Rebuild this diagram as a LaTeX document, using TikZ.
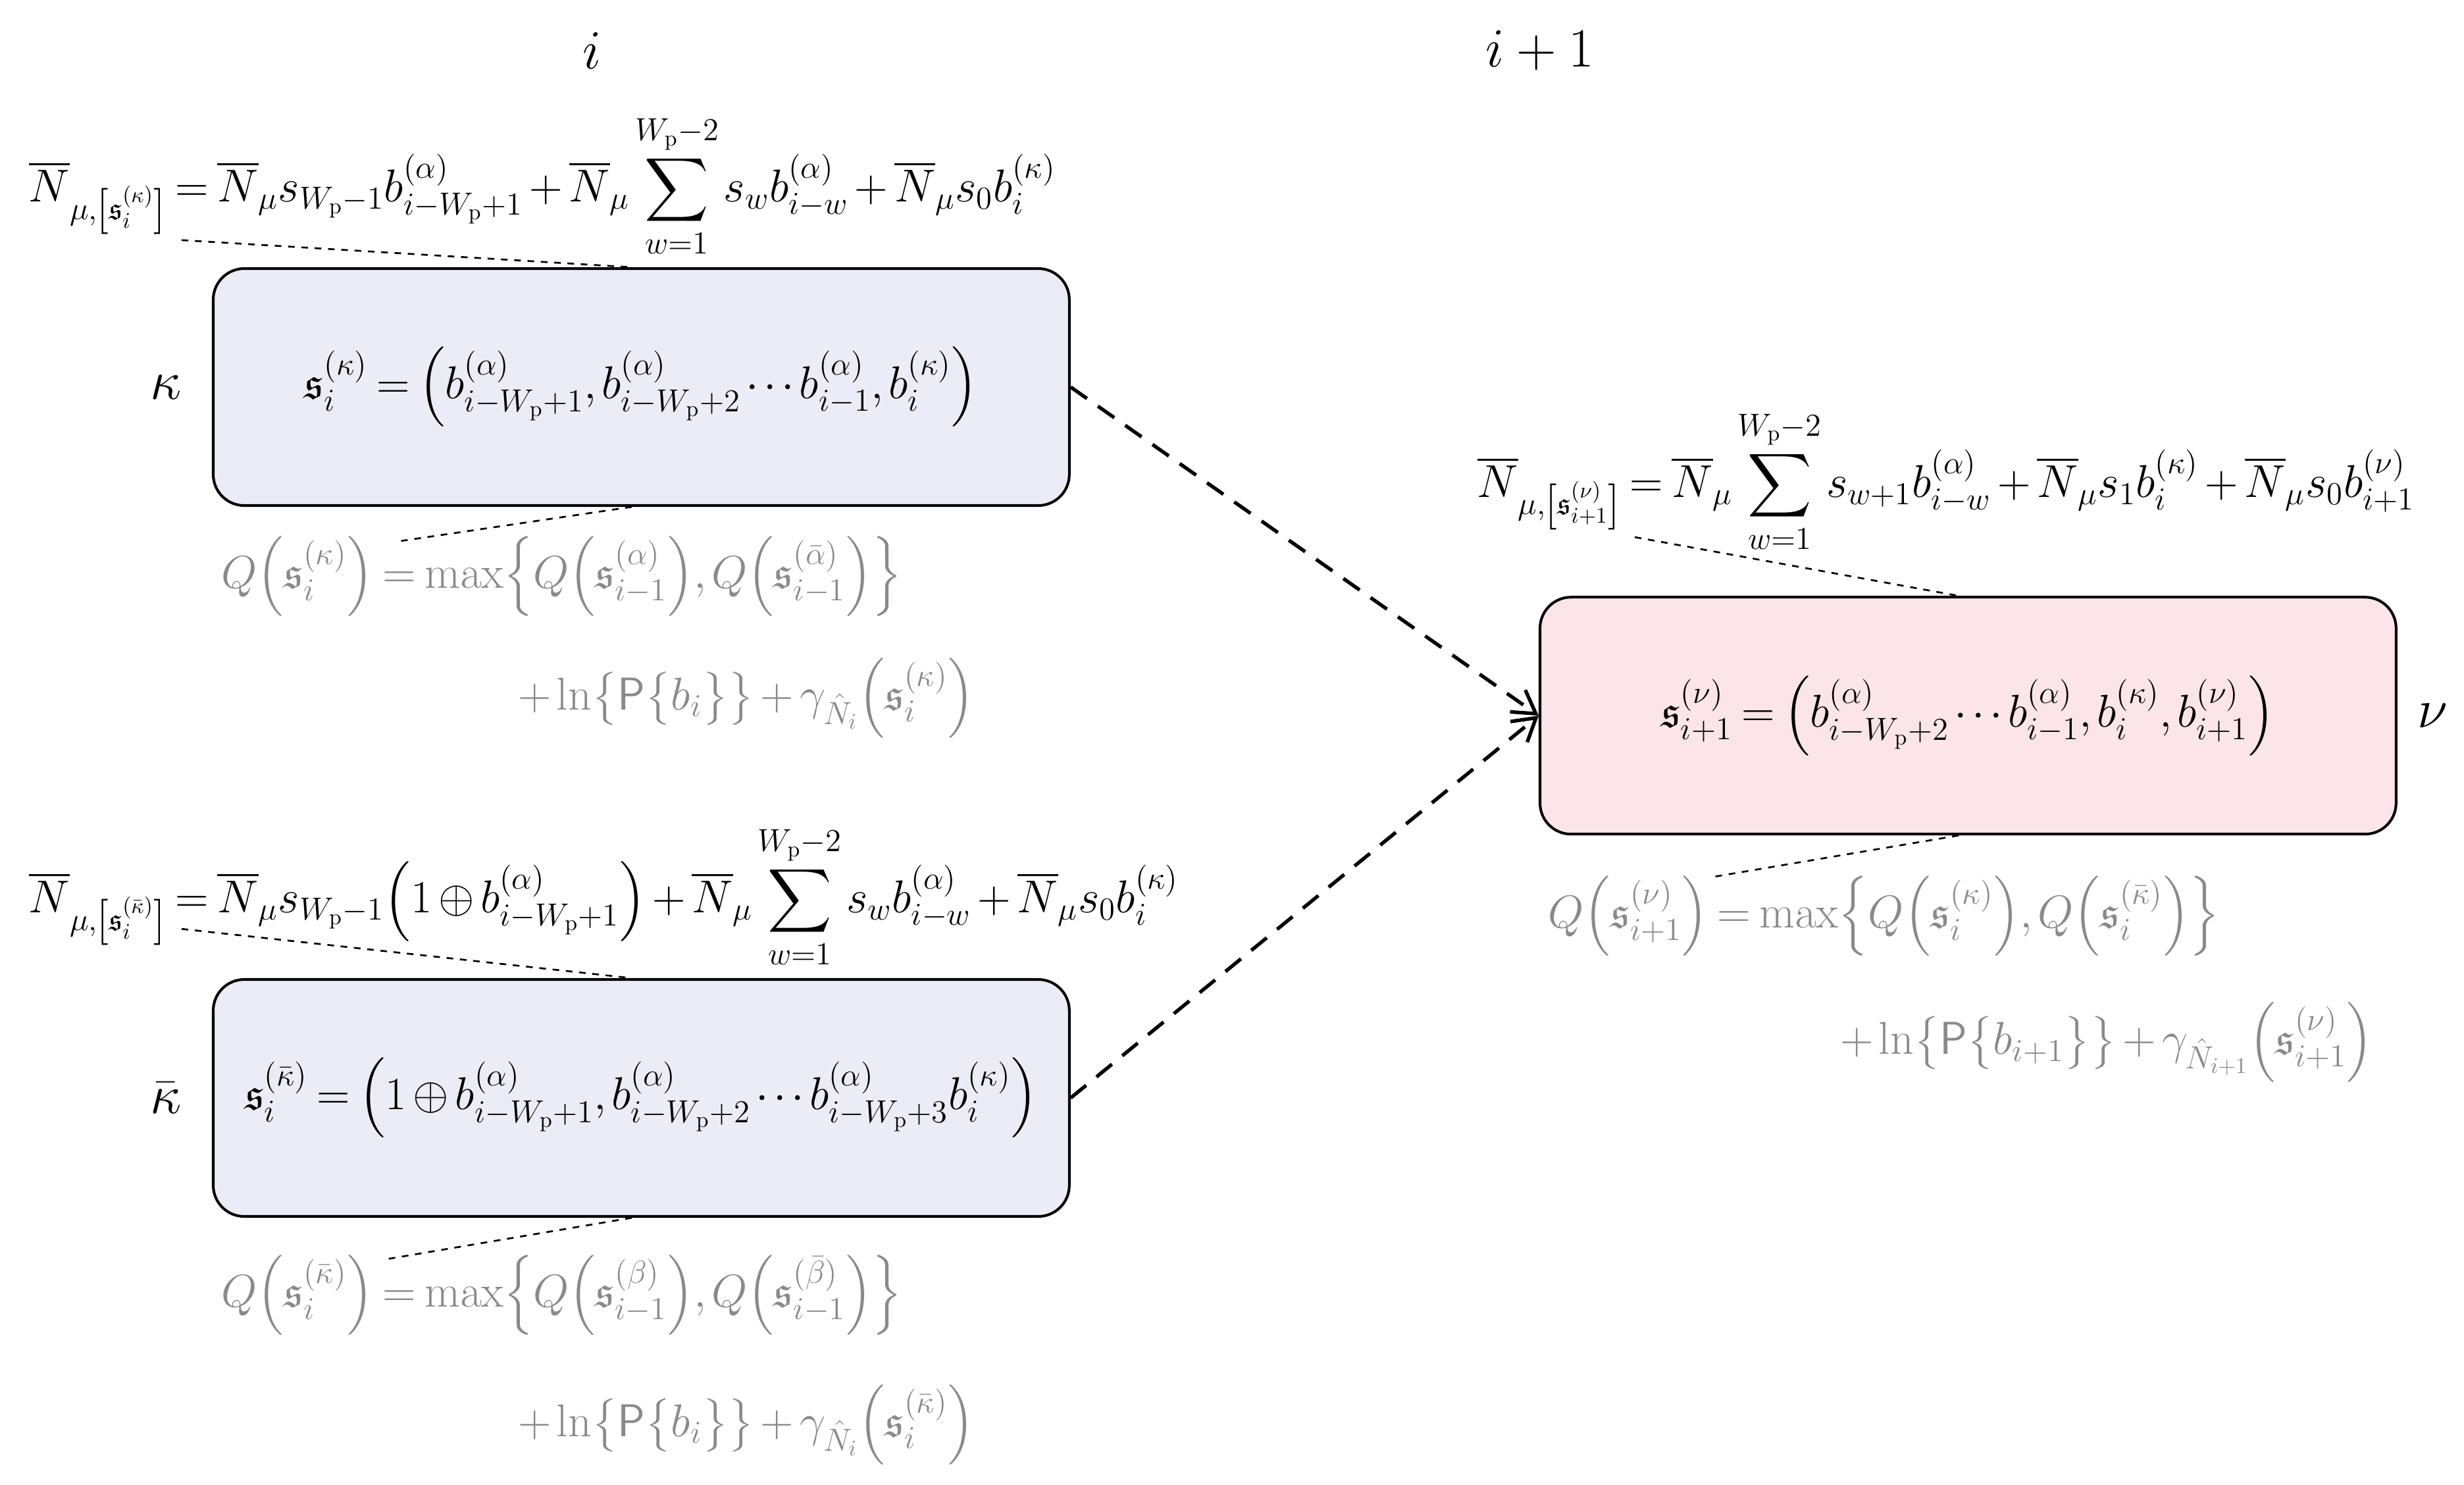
\documentclass[tikz,border=0pt]{standalone}
\usepackage{amsmath,amssymb}
\usetikzlibrary{arrows.meta}
\definecolor{boxblue}{HTML}{ECECF6}
\definecolor{boxpink}{HTML}{FBE5E8}
\definecolor{qgray}{HTML}{8A8A8A}
\newcommand{\Nb}{\overline{N}}
\newcommand{\Wp}{W_{\mathrm{p}}}
\newcommand{\tightmath}{\medmuskip=2.5mu plus 1mu\thickmuskip=3.5mu plus 2mu\thinmuskip=2mu}
\begin{document}
\begin{tikzpicture}[x=0.025cm,y=-0.025cm,
  eq/.style={inner sep=0pt,font=\fontsize{20}{24}\selectfont\tightmath},
  lab/.style={inner sep=0pt,font=\fontsize{26}{30}\selectfont},
  qeq/.style={eq,text=qgray},
  state/.style={draw,line width=1.2pt,rounded corners=14pt,minimum width=542*0.025cm,minimum height=150*0.025cm,inner sep=0pt,font=\fontsize{20}{24}\selectfont\tightmath},
  lead/.style={dashed,line width=0.8pt},
  trans/.style={line width=1.6pt,dash pattern=on 9pt off 6pt,-{Straight Barb[length=10pt,width=12pt]}}]
\useasboundingbox (0,0) rectangle (1560,940);
\node[lab] (ti) at (375,32) {$i$};
\node[lab] (ti1) at (975,32) {$i+1$};
\node[state,fill=boxblue] (k) at (406,245) {$\mathfrak{s}_i^{(\kappa)}=\Bigl(b_{i-\Wp+1}^{(\alpha)},b_{i-\Wp+2}^{(\alpha)}\cdots b_{i-1}^{(\alpha)},b_i^{(\kappa)}\Bigr)$};
\node[state,fill=boxblue] (kb) at (406,695) {$\mathfrak{s}_i^{(\bar\kappa)}=\Bigl(1\oplus b_{i-\Wp+1}^{(\alpha)},b_{i-\Wp+2}^{(\alpha)}\cdots b_{i-\Wp+3}^{(\alpha)}b_i^{(\kappa)}\Bigr)$};
\node[state,fill=boxpink] (n) at (1246,453) {$\mathfrak{s}_{i+1}^{(\nu)}=\Bigl(b_{i-\Wp+2}^{(\alpha)}\cdots b_{i-1}^{(\alpha)},b_i^{(\kappa)},b_{i+1}^{(\nu)}\Bigr)$};
\node[lab] (lk) at (105,245) {$\kappa$};
\node[lab] (lkb) at (105,695) {$\bar\kappa$};
\node[lab] (ln) at (1540,453) {$\nu$};
\node[eq,anchor=west] (e1) at (18,118) {$\displaystyle\Nb_{\mu,\left[\mathfrak{s}_i^{(\kappa)}\right]}=\Nb_\mu s_{\Wp-1}b_{i-\Wp+1}^{(\alpha)}+\Nb_\mu\sum_{w=1}^{\Wp-2}s_wb_{i-w}^{(\alpha)}+\Nb_\mu s_0b_i^{(\kappa)}$};
\node[eq,anchor=west] (e2) at (18,568) {$\displaystyle\Nb_{\mu,\left[\mathfrak{s}_i^{(\bar\kappa)}\right]}=\Nb_\mu s_{\Wp-1}\Bigl(1\oplus b_{i-\Wp+1}^{(\alpha)}\Bigr)+\Nb_\mu\sum_{w=1}^{\Wp-2}s_wb_{i-w}^{(\alpha)}+\Nb_\mu s_0b_i^{(\kappa)}$};
\node[eq,anchor=west] (e3) at (935,305) {$\displaystyle\Nb_{\mu,\left[\mathfrak{s}_{i+1}^{(\nu)}\right]}=\Nb_\mu\sum_{w=1}^{\Wp-2}s_{w+1}b_{i-w}^{(\alpha)}+\Nb_\mu s_1b_i^{(\kappa)}+\Nb_\mu s_0b_{i+1}^{(\nu)}$};
\node[qeq,anchor=west] (q1) at (140,365) {$Q\Bigl(\mathfrak{s}_i^{(\kappa)}\Bigr)=\max\Bigl\{Q\Bigl(\mathfrak{s}_{i-1}^{(\alpha)}\Bigr),Q\Bigl(\mathfrak{s}_{i-1}^{(\bar\alpha)}\Bigr)\Bigr\}$};
\node[qeq,anchor=west] (q1b) at (328,442) {$+\ln\bigl\{\mathsf{P}\bigl\{b_i\bigr\}\bigr\}+\gamma_{\hat N_i}\Bigl(\mathfrak{s}_i^{(\kappa)}\Bigr)$};
\node[qeq,anchor=west] (q2) at (140,820) {$Q\Bigl(\mathfrak{s}_i^{(\bar\kappa)}\Bigr)=\max\Bigl\{Q\Bigl(\mathfrak{s}_{i-1}^{(\beta)}\Bigr),Q\Bigl(\mathfrak{s}_{i-1}^{(\bar\beta)}\Bigr)\Bigr\}$};
\node[qeq,anchor=west] (q2b) at (328,902) {$+\ln\bigl\{\mathsf{P}\bigl\{b_i\bigr\}\bigr\}+\gamma_{\hat N_i}\Bigl(\mathfrak{s}_i^{(\bar\kappa)}\Bigr)$};
\node[qeq,anchor=west] (q3) at (980,580) {$Q\Bigl(\mathfrak{s}_{i+1}^{(\nu)}\Bigr)=\max\Bigl\{Q\Bigl(\mathfrak{s}_i^{(\kappa)}\Bigr),Q\Bigl(\mathfrak{s}_i^{(\bar\kappa)}\Bigr)\Bigr\}$};
\node[qeq,anchor=west] (q3b) at (1165,660) {$+\ln\bigl\{\mathsf{P}\bigl\{b_{i+1}\bigr\}\bigr\}+\gamma_{\hat N_{i+1}}\Bigl(\mathfrak{s}_{i+1}^{(\nu)}\Bigr)$};
\coordinate (a1) at (115,152); \coordinate (a2) at (250,343);
\coordinate (b1) at (115,588); \coordinate (b2) at (245,797);
\coordinate (c1) at (1035,340); \coordinate (c2) at (1085,555);
\draw[lead] (a1) -- (k.north -| 400,0);
\draw[lead] (k.south -| 400,0) -- (a2);
\draw[lead] (b1) -- (kb.north -| 400,0);
\draw[lead] (kb.south -| 400,0) -- (b2);
\draw[lead] (c1) -- (n.north -| 1240,0);
\draw[lead] (n.south -| 1240,0) -- (c2);
\draw[trans] (k.east) -- (n.west);
\draw[trans] (kb.east) -- (n.west);
\end{tikzpicture}
\end{document}
